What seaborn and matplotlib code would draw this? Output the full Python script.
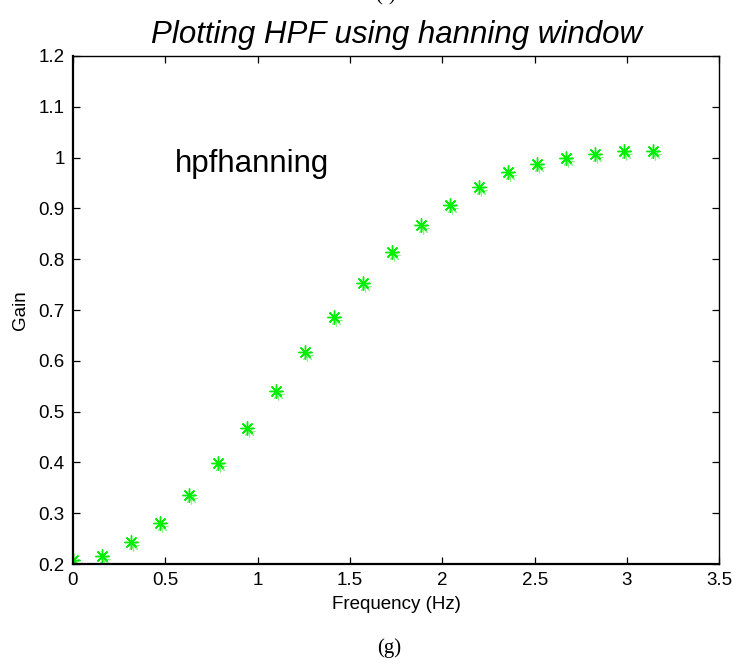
import numpy as np
import pandas as pd
import matplotlib
matplotlib.use("Agg")
import matplotlib.pyplot as plt
import matplotlib.transforms as mtransforms
import seaborn as sns

# Frequency samples (k * pi / 20) and the measured high-pass gain
frequency = [0.000, 0.157, 0.314, 0.471, 0.628, 0.785, 0.942, 1.100, 1.257,
             1.414, 1.571, 1.728, 1.885, 2.042, 2.199, 2.356, 2.513, 2.670,
             2.827, 2.985, 3.142]
gain = [0.208, 0.216, 0.243, 0.280, 0.336, 0.398, 0.467, 0.541, 0.617,
        0.687, 0.754, 0.814, 0.867, 0.907, 0.943, 0.971, 0.988, 0.999,
        1.008, 1.013, 1.013]

x_ticks = [0, 0.5, 1, 1.5, 2, 2.5, 3, 3.5]
x_tick_labels = ["0", "0.5", "1", "1.5", "2", "2.5", "3", "3.5"]
y_ticks = [0.2, 0.3, 0.4, 0.5, 0.6, 0.7, 0.8, 0.9, 1.0, 1.1, 1.2]
y_tick_labels = ["0.2", "0.3", "0.4", "0.5", "0.6", "0.7", "0.8", "0.9", "1", "1.1", "1.2"]

sns.set_style("ticks", {
    "xtick.direction": "in",
    "ytick.direction": "in",
    "axes.edgecolor": "black",
    "axes.labelcolor": "black",
    "text.color": "black",
    "xtick.color": "black",
    "ytick.color": "black",
})
plt.rcParams["font.family"] = ["Liberation Sans", "DejaVu Sans"]

df = pd.DataFrame({"Frequency": frequency, "Gain": gain})

fig = plt.figure(figsize=(7.37, 6.66), dpi=100)
ax = fig.add_axes([0.099, 0.153, 0.877, 0.763])

green = "#00ee00"
asterisk = (8, 2, 0)

# faint offset copy gives the smeared look of the printed markers
ghost = ax.transData + mtransforms.ScaledTranslation(2 / 100, -3 / 100, fig.dpi_scale_trans)
sns.lineplot(data=df, x="Frequency", y="Gain", ax=ax, marker=asterisk, linestyle="",
             color="#8cf08c", markeredgecolor="#8cf08c", markersize=8.5,
             markeredgewidth=0.8, transform=ghost, legend=False)
sns.lineplot(data=df, x="Frequency", y="Gain", ax=ax, marker=asterisk, linestyle="",
             color=green, markeredgecolor=green, markersize=10,
             markeredgewidth=1.0, legend=False)

ax.set_xlim(0, 3.5)
ax.set_ylim(0.2, 1.2)
ax.set_xticks(x_ticks)
ax.set_xticklabels(x_tick_labels)
ax.set_yticks(y_ticks)
ax.set_yticklabels(y_tick_labels)
ax.tick_params(axis="both", which="both", direction="in", length=5, width=0.9,
               labelsize=13.5, top=True, right=True, colors="black", pad=6)
for side in ["top", "right", "bottom", "left"]:
    ax.spines[side].set_visible(True)
    ax.spines[side].set_linewidth(1.0)
    ax.spines[side].set_color("black")
ax.spines["left"].set_linewidth(1.6)
ax.spines["bottom"].set_linewidth(1.6)

ax.set_xlabel("Frequency (Hz)", fontsize=13.5, labelpad=5, color="black")
ax.set_ylabel("Gain", fontsize=13.5, labelpad=7, color="black")
ax.set_title("Plotting HPF using hanning window", fontsize=22.5, style="italic",
             pad=9, color="black")

ax.text(0.55, 0.972, "hpfhanning", fontsize=22.5, ha="left", va="baseline", color="black")

fig.text(0.523, 1.006, "(f)", fontsize=15, family="Liberation Serif",
         ha="center", va="center", color="black")
fig.text(0.528, 0.027, "(g)", fontsize=15, family="Liberation Serif",
         ha="center", va="center", color="black")

fig.savefig("out.png", dpi=100)
